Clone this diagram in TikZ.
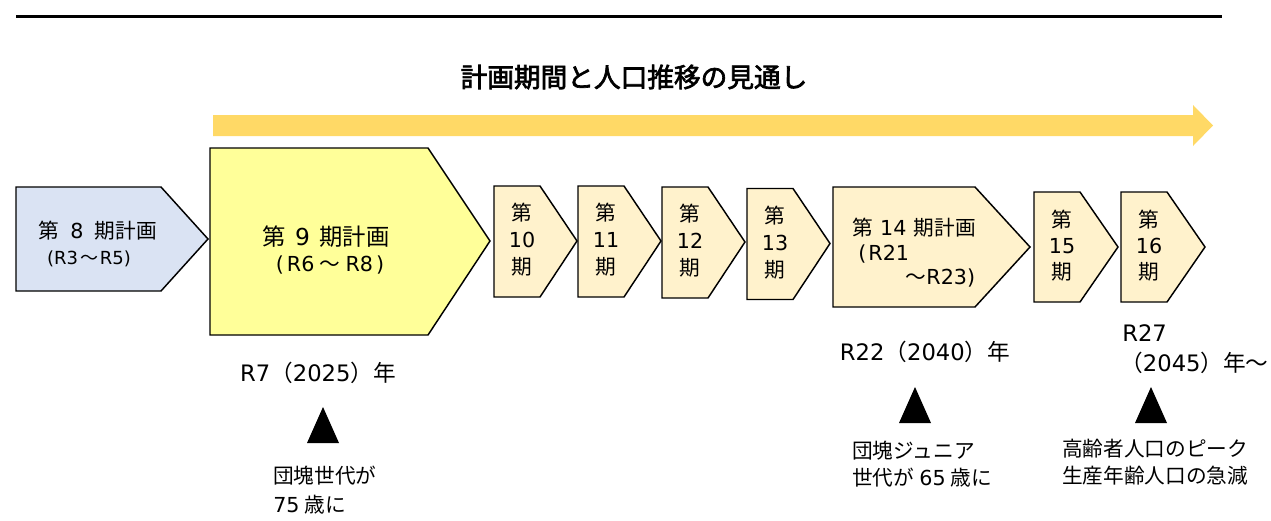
\documentclass[tikz,border=0pt]{standalone}
\usepackage{fontspec}
\setmainfont{Noto Sans CJK JP}
\newfontfamily\titlefont{Noto Sans CJK JP}[AutoFakeBold=2.5]
\newfontfamily\lat{DejaVu Sans}

\definecolor{planblue}{HTML}{DAE3F3}
\definecolor{planyellow}{HTML}{FFFF99}
\definecolor{plancream}{HTML}{FFF2CC}
\definecolor{arrowgold}{HTML}{FFD966}

\tikzset{
  phase/.style={draw=black, line width=1.1pt, line join=miter},
  txt/.style={inner sep=0pt, font=\fontsize{15.5}{20}\selectfont},
  year/.style={inner sep=0pt, font=\fontsize{17}{20}\selectfont},
  period/.style={inner sep=0pt, align=center, font=\fontsize{15.5}{20.25}\selectfont},
  note/.style={inner sep=0pt, align=left, font=\fontsize{15.5}{20.25}\selectfont},
}

\begin{document}
\begin{tikzpicture}[x=0.75pt, y=-0.75pt]
\useasboundingbox (0,0) rectangle (1271,521);

% rule and title
\draw[line width=2.4pt] (16,16.5) -- (1222,16.5);
\node[inner sep=0pt, font=\titlefont\bfseries\fontsize{20}{20}\selectfont] (title) at (634,77) {計画期間と人口推移の見通し};

% long arrow
\fill[arrowgold] (213,115) -- (1193,115) -- (1193,105) -- (1213,125.5)
  -- (1193,146) -- (1193,136) -- (213,136) -- cycle;

% 8th and 9th plan
\filldraw[phase, fill=planblue] (16,187) -- (161,187) -- (208,239) -- (161,291) -- (16,291) -- cycle;
\node[txt, anchor=west] (p8) at (38,231) {第\hspace{0.55em}{\lat 8}\hspace{0.55em}期計画};
\node[txt, font=\fontsize{13.5}{16}\selectfont] (p8y) at (89,259) {{\lat (R3}\hspace{0.1em}～\hspace{0.1em}{\lat R5)}};

\filldraw[phase, fill=planyellow] (210,148) -- (428,148) -- (490,241) -- (428,335) -- (210,335) -- cycle;
\node[txt, font=\fontsize{17.5}{20}\selectfont] (p9) at (326,237) {第\hspace{0.4em}{\lat 9}\hspace{0.4em}期計画};
\node[txt] (p9y) at (330,265) {{\lat (\hspace{0.15em}R6}\hspace{0.25em}～\hspace{0.25em}{\lat R8\hspace{0.15em})}};

% 10th to 13th
\foreach \n/\x/\dy in {10/494/0, 11/578/0, 12/662/1, 13/747/2.5}{
  \filldraw[phase, fill=plancream] (\x,186+\dy) -- (\x+46,186+\dy) -- (\x+83,241+\dy)
    -- (\x+46,297+\dy) -- (\x,297+\dy) -- cycle;
  \node[period] (p\n) at (\x+28,240+\dy) {第\\{\lat\n}\\期};
}

% 14th plan
\filldraw[phase, fill=plancream] (833,187) -- (975,187) -- (1030,247) -- (975,307) -- (833,307) -- cycle;
\node[txt] (p14) at (914,228) {第\hspace{0.35em}{\lat 14}\hspace{0.35em}期計画};
\node[txt, anchor=north west, align=left, font=\fontsize{15.5}{18}\selectfont] (p14y) at (858,245)
  {{\lat (\hspace{0.1em}R21}\\\hspace*{2.3em}～{\lat R23)}};

% 15th and 16th
\foreach \n/\x in {15/1034, 16/1121}{
  \filldraw[phase, fill=plancream] (\x,192) -- (\x+46,192) -- (\x+84,247)
    -- (\x+46,302) -- (\x,302) -- cycle;
  \node[period, font=\fontsize{15.5}{19.5}\selectfont] (p\n) at (\x+28,246) {第\\{\lat\n}\\期};
}

% milestones
\node[year] (y2025) at (318,373) {{\lat R7}（{\lat 2025}）年};
\fill (307,443) -- (323,407) -- (339,443) -- cycle;
\node[note, anchor=north west, font=\fontsize{15.5}{21.75}\selectfont] (n2025) at (273,466) {団塊世代が\\{\lat 75}\hspace{0.25em}歳に};

\node[year] (y2040) at (925,352) {{\lat R22}（{\lat 2040}）年};
\fill (899,423) -- (915,387) -- (931,423) -- cycle;
\node[note, anchor=north west] (n2040) at (852,441) {団塊ジュニア\\世代が\hspace{0.25em}{\lat 65}\hspace{0.25em}歳に};

\node[year, anchor=west] (y2045a) at (1122,333) {{\lat R27}};
\node[year, anchor=west] (y2045b) at (1120,363) {（{\lat 2045}）年～};
\fill (1135,423) -- (1151,387) -- (1167,423) -- cycle;
\node[note, anchor=north west] (n2045) at (1062,439) {高齢者人口のピーク\\生産年齢人口の急減};

\end{tikzpicture}
\end{document}
